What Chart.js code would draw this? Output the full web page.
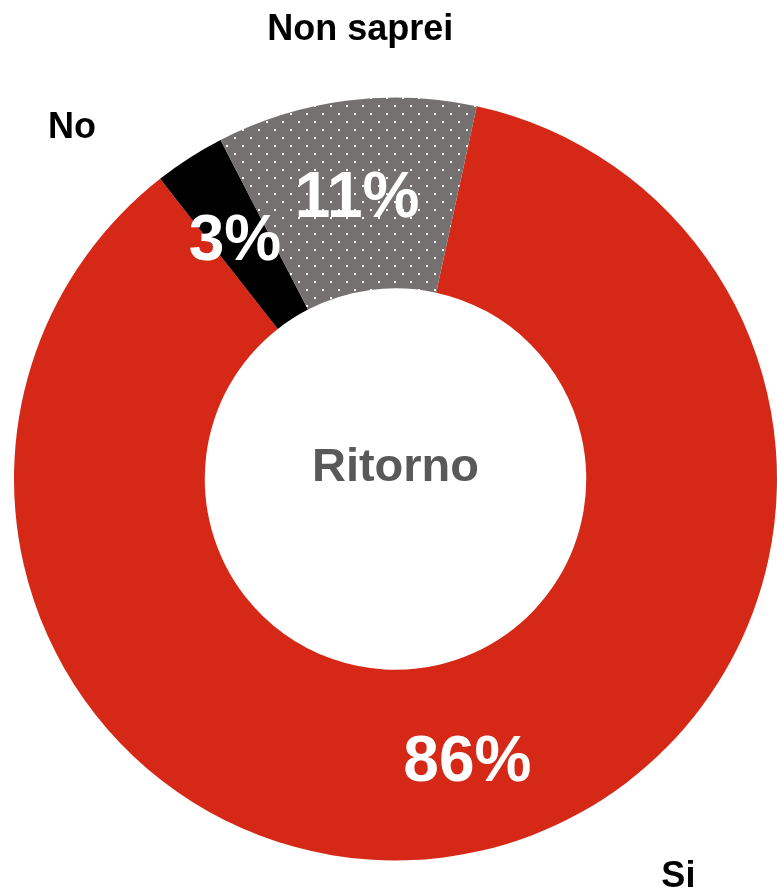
<!DOCTYPE html>
<html>
<head>
<meta charset="utf-8">
<script src="https://cdn.jsdelivr.net/npm/chart.js@4.4.1/dist/chart.umd.min.js"></script>
<style>
  html, body { margin: 0; padding: 0; background: #fff; }
  #wrap { width: 777px; height: 889px; position: relative; }
</style>
</head>
<body>
<div id="wrap"><canvas id="ritorno"></canvas></div>
<script>
// data
const categories = ['Si', 'No', 'Non saprei'];
const percentages = [86, 3, 11];
const centerTitle = 'Ritorno';

// dotted grey fill for "Non saprei"
function dotPattern() {
    const c = document.createElement('canvas');
    c.width = 16;
    c.height = 16;
    const g = c.getContext('2d');
    g.fillStyle = '#767171';
    g.fillRect(0, 0, 16, 16);
    g.fillStyle = '#ffffff';
    g.fillRect(2, 1, 2, 2);
    g.fillRect(10, 9, 2, 2);
    return g.createPattern(c, 'repeat');
}

const sliceColors = ['#d52816', '#000000', dotPattern()];

// where the category names sit, relative to each arc (angle shift in deg, distance as share of outer radius)
const nameOffsets = [
    { shift: -22.5, dist: 1.28 },
    { shift: -10, dist: 1.25 },
    { shift: 3, dist: 1.18 }
];
// small nudges of the percentage text off the arc centroid (px)
const valueNudge = [[8, 5], [-6, 4], [-1, 4]];

const labelsPlugin = {
    id: 'sliceLabels',
    afterDatasetsDraw(chart) {
        const ctx = chart.ctx;
        const arcs = chart.getDatasetMeta(0).data;
        ctx.save();
        ctx.textAlign = 'center';
        ctx.textBaseline = 'middle';
        arcs.forEach((arc, i) => {
            const pos = arc.tooltipPosition();
            ctx.fillStyle = '#ffffff';
            ctx.font = 'bold 64px "Liberation Sans", Arial, sans-serif';
            ctx.fillText(percentages[i] + '%', pos.x + valueNudge[i][0], pos.y + valueNudge[i][1]);

            const p = arc.getProps(['x', 'y', 'startAngle', 'endAngle', 'outerRadius']);
            const mid = (p.startAngle + p.endAngle) / 2 + nameOffsets[i].shift * Math.PI / 180;
            const r = p.outerRadius * nameOffsets[i].dist;
            ctx.fillStyle = '#000000';
            ctx.font = 'bold 36px "Liberation Sans", Arial, sans-serif';
            ctx.fillText(categories[i], p.x + Math.cos(mid) * r, p.y + Math.sin(mid) * r);
        });
        const first = arcs[0];
        ctx.fillStyle = '#595959';
        ctx.font = 'bold 47px "Liberation Sans", Arial, sans-serif';
        ctx.fillText(centerTitle, first.x, first.y - 11);
        ctx.restore();
    }
};

new Chart(document.getElementById('ritorno'), {
    type: 'doughnut',
    data: {
        labels: categories,
        datasets: [{
            data: percentages,
            backgroundColor: sliceColors,
            borderWidth: 0
        }]
    },
    options: {
        responsive: true,
        maintainAspectRatio: false,
        animation: false,
        rotation: 12.3,
        cutout: '50%',
        layout: {
            padding: { left: 14, right: 0, top: 97, bottom: 28 }
        },
        plugins: {
            legend: { display: false },
            tooltip: { enabled: false }
        }
    },
    plugins: [labelsPlugin]
});
</script>
</body>
</html>
